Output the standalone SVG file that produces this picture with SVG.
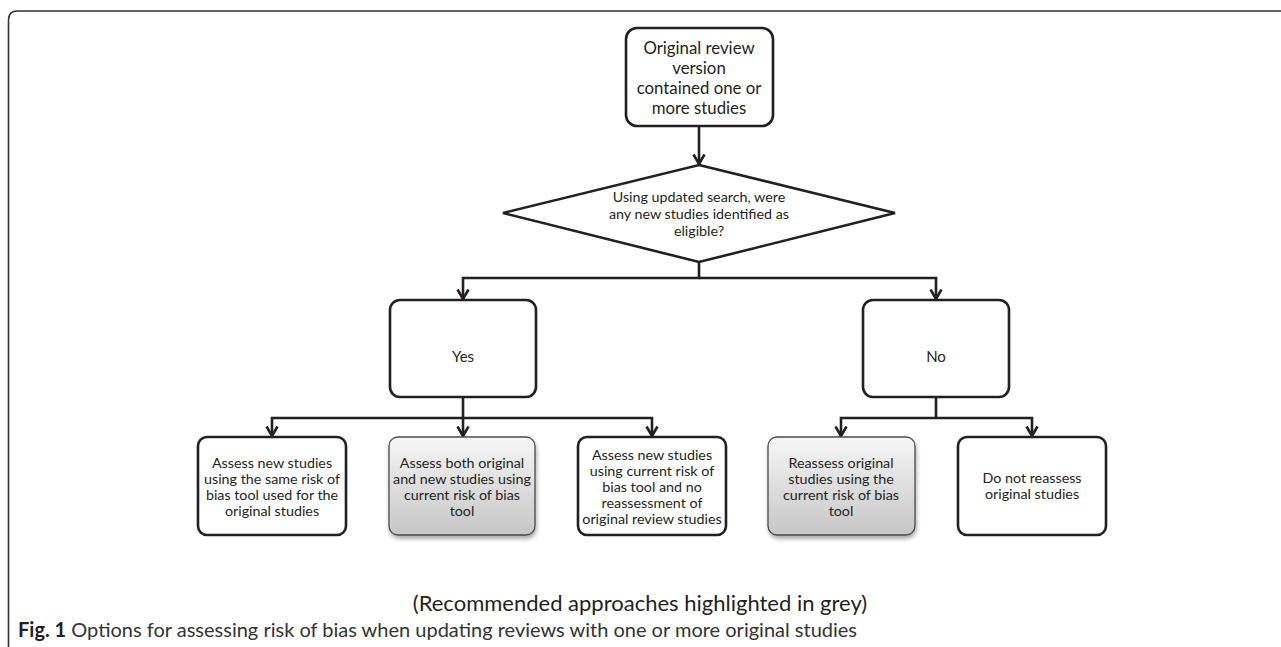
<svg xmlns="http://www.w3.org/2000/svg" width="1281" height="647" viewBox="0 0 1281 647">
<defs>
<marker id="arr" markerWidth="16" markerHeight="16" viewBox="0 0 16 16" refX="13" refY="8" orient="auto" markerUnits="userSpaceOnUse" overflow="visible">
<path d="M3.5 2.5 L13 8 L3.5 13.5" fill="none" stroke="#231f20" stroke-width="2.6" stroke-linejoin="miter"/>
</marker>
<linearGradient id="grey" x1="0" y1="0" x2="0" y2="1">
<stop offset="0" stop-color="#f6f6f6"/>
<stop offset="1" stop-color="#c6c6c6"/>
</linearGradient>
<filter id="shadow" x="-10%" y="-10%" width="120%" height="130%">
<feGaussianBlur in="SourceAlpha" stdDeviation="2"/>
<feOffset dx="1" dy="3" result="b"/>
<feComponentTransfer><feFuncA type="linear" slope="0.35"/></feComponentTransfer>
<feMerge><feMergeNode/><feMergeNode in="SourceGraphic"/></feMerge>
</filter>
</defs>
<style>
.box{fill:#fff;stroke:#231f20;stroke-width:2.6}
.gbox{fill:url(#grey);stroke:#4a4a4a;stroke-width:1.3;filter:url(#shadow)}
.conn{fill:none;stroke:#231f20;stroke-width:2.6}
text{font-family:Lato,"Open Sans","Liberation Sans",sans-serif;fill:#231f20;text-anchor:middle}
.t17{font-size:16.8px}
.t14{font-size:14.3px}
.t15{font-size:15px}
.cap{font-size:22px}
.fig{font-size:20px;text-anchor:start;fill:#333}
</style>
<rect width="1281" height="647" fill="#fff"/>
<path d="M8.5 647 V20 Q8.5 11 17.5 11 H1281" fill="none" stroke="#333" stroke-width="1.6"/>

<g id="connectors">
<line class="conn" x1="699" y1="126" x2="699" y2="164" marker-end="url(#arr)"/>
<polyline class="conn" points="699,262 699,278 463,278 463,299" marker-end="url(#arr)"/>
<polyline class="conn" points="699,278 936,278 936,299" marker-end="url(#arr)"/>
<line class="conn" x1="463" y1="397" x2="463" y2="436" marker-end="url(#arr)"/>
<polyline class="conn" points="463,418 272,418 272,436" marker-end="url(#arr)"/>
<polyline class="conn" points="463,418 652,418 652,436" marker-end="url(#arr)"/>
<line class="conn" x1="936" y1="397" x2="936" y2="418"/>
<polyline class="conn" points="936,418 841,418 841,436" marker-end="url(#arr)"/>
<polyline class="conn" points="936,418 1032,418 1032,436" marker-end="url(#arr)"/>
</g>

<g id="start">
<rect class="box" x="626" y="28" width="147" height="98" rx="11"/>
<text class="t17" x="699" y="54">Original review</text>
<text class="t17" x="699" y="74">version</text>
<text class="t17" x="699" y="94">contained one or</text>
<text class="t17" x="699" y="114">more studies</text>
</g>

<g id="decision">
<polygon class="box" points="699,165 895,213 699,262 503,213"/>
<text class="t14" x="699" y="202">Using updated search, were</text>
<text class="t14" x="699" y="219">any new studies identified as</text>
<text class="t14" x="699" y="236">eligible?</text>
</g>

<g id="yes">
<rect class="box" x="390" y="300" width="146" height="97" rx="10"/>
<text class="t15" x="463" y="362">Yes</text>
</g>

<g id="no">
<rect class="box" x="863" y="300" width="146" height="97" rx="10"/>
<text class="t15" x="936" y="362">No</text>
</g>

<g id="opt1">
<rect class="box" x="198" y="437" width="148" height="98" rx="9"/>
<text class="t14" x="272" y="468">Assess new studies</text>
<text class="t14" x="272" y="484">using the same risk of</text>
<text class="t14" x="272" y="500">bias tool used for the</text>
<text class="t14" x="272" y="516">original studies</text>
</g>

<g id="opt2">
<rect class="gbox" x="389" y="437" width="146" height="98" rx="9"/>
<text class="t14" x="462" y="468">Assess both original</text>
<text class="t14" x="462" y="484">and new studies using</text>
<text class="t14" x="462" y="500">current risk of bias</text>
<text class="t14" x="462" y="516">tool</text>
</g>

<g id="opt3">
<rect class="box" x="578" y="437" width="148" height="98" rx="9"/>
<text class="t14" x="652" y="460">Assess new studies</text>
<text class="t14" x="652" y="476">using current risk of</text>
<text class="t14" x="652" y="492">bias tool and no</text>
<text class="t14" x="652" y="508">reassessment of</text>
<text class="t14" x="652" y="524">original review studies</text>
</g>

<g id="opt4">
<rect class="gbox" x="768" y="437" width="147" height="98" rx="9"/>
<text class="t14" x="841" y="468">Reassess original</text>
<text class="t14" x="841" y="484">studies using  the</text>
<text class="t14" x="841" y="500">current risk of bias</text>
<text class="t14" x="841" y="516">tool</text>
</g>

<g id="opt5">
<rect class="box" x="958" y="437" width="148" height="98" rx="9"/>
<text class="t14" x="1032" y="483">Do not reassess</text>
<text class="t14" x="1032" y="499">original studies</text>
</g>

<text class="cap" x="640" y="611">(Recommended approaches highlighted in grey)</text>
<text class="fig" x="18" y="637"><tspan font-weight="bold" fill="#231f20">Fig. 1</tspan> Options for assessing risk of bias when updating reviews with one or more original studies</text>
</svg>
